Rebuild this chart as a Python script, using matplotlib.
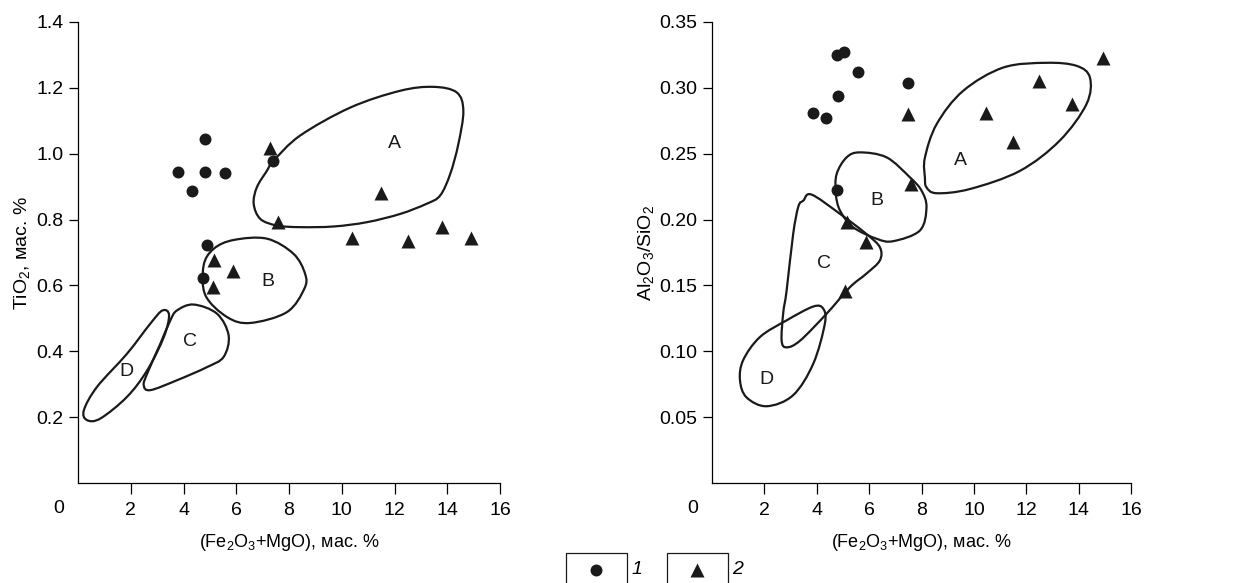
import numpy as np
import matplotlib.pyplot as plt
from matplotlib.path import Path
from matplotlib.patches import PathPatch, Rectangle
from matplotlib.lines import Line2D

plt.rcParams['font.family'] = ['Liberation Sans Narrow', 'Liberation Sans', 'DejaVu Sans']
plt.rcParams['mathtext.fontset'] = 'custom'
plt.rcParams['mathtext.rm'] = 'Liberation Sans Narrow'
plt.rcParams['mathtext.it'] = 'Liberation Sans Narrow:italic'

# ---- left panel: TiO2 vs (Fe2O3+MgO)
ti_circ_x = [4.83, 3.80, 4.83, 5.58, 4.33, 7.41, 4.90, 4.72]
ti_circ_y = [1.045, 0.945, 0.945, 0.942, 0.888, 0.978, 0.724, 0.622]
ti_tri_x = [7.26, 7.57, 11.5, 10.4, 12.5, 13.8, 14.9, 5.15, 5.87, 5.10]
ti_tri_y = [1.018, 0.794, 0.880, 0.743, 0.734, 0.777, 0.743, 0.676, 0.645, 0.595]

ti_fields = {
    'A': [(7.41, 0.978), (8.42, 1.055), (10.32, 1.140), (12.21, 1.191), (13.47, 1.203),
          (14.36, 1.186), (14.61, 1.130), (14.42, 1.029), (14.11, 0.938), (13.73, 0.873),
          (13.22, 0.848), (12.21, 0.817), (10.95, 0.792), (9.69, 0.779), (8.42, 0.777),
          (7.54, 0.782), (6.91, 0.802), (6.66, 0.848), (6.78, 0.898), (7.16, 0.948)],
    'B': [(4.76, 0.66), (5.14, 0.711), (5.90, 0.738), (7.16, 0.742), (8.17, 0.696),
          (8.61, 0.635), (8.58, 0.590), (7.92, 0.519), (6.53, 0.486), (5.65, 0.504),
          (4.83, 0.57)],
    'C': [(4.38, 0.542), (5.27, 0.514), (5.71, 0.448), (5.52, 0.383), (4.89, 0.352),
          (3.75, 0.312), (2.74, 0.282), (2.49, 0.297), (2.62, 0.332), (3.12, 0.423),
          (3.50, 0.494), (3.75, 0.524)],
    'D': [(3.20, 0.524), (3.45, 0.510), (3.25, 0.443), (2.62, 0.342), (1.86, 0.262),
          (0.85, 0.196), (0.34, 0.191), (0.22, 0.221), (0.72, 0.292), (1.86, 0.393),
          (2.74, 0.484)],
}
ti_labels = {'A': (12.0, 1.03), 'B': (7.2, 0.612), 'C': (4.23, 0.43), 'D': (1.83, 0.34)}

# ---- right panel: Al2O3/SiO2 vs (Fe2O3+MgO)
al_circ_x = [4.76, 5.04, 5.56, 7.48, 4.82, 3.84, 4.35, 4.76]
al_circ_y = [0.325, 0.327, 0.312, 0.304, 0.294, 0.281, 0.277, 0.2225]
al_tri_x = [14.94, 12.49, 13.75, 10.48, 11.5, 7.49, 7.60, 5.15, 5.90, 5.08]
al_tri_y = [0.3225, 0.305, 0.2877, 0.281, 0.259, 0.2805, 0.227, 0.198, 0.183, 0.146]

al_fields = {
    'A': [(8.19, 0.2245), (8.58, 0.220), (9.85, 0.2232), (11.76, 0.237), (13.28, 0.260),
          (14.30, 0.2877), (14.43, 0.3078), (13.92, 0.3167), (12.77, 0.319), (11.12, 0.3154),
          (9.59, 0.2977), (8.58, 0.2725), (8.13, 0.247), (8.13, 0.232)],
    'B': [(4.76, 0.2346), (5.14, 0.2472), (5.65, 0.251), (6.67, 0.2472), (7.56, 0.232),
          (8.0, 0.222), (8.19, 0.2093), (7.94, 0.1917), (6.92, 0.1836), (6.29, 0.1854),
          (5.39, 0.1942), (4.89, 0.2068), (4.73, 0.2195)],
    'C': [(3.80, 0.219), (4.89, 0.2043), (5.90, 0.189), (6.41, 0.179), (6.41, 0.169),
          (5.90, 0.159), (5.27, 0.1487), (4.38, 0.1286), (3.36, 0.108), (2.85, 0.103),
          (2.66, 0.108), (2.72, 0.129), (2.85, 0.146), (3.10, 0.189), (3.30, 0.210),
          (3.49, 0.2144)],
    'D': [(1.07, 0.078), (1.32, 0.065), (2.09, 0.0583), (3.10, 0.0667), (3.87, 0.0907),
          (4.31, 0.121), (4.25, 0.1323), (3.87, 0.134), (2.85, 0.1235), (1.83, 0.1108),
          (1.19, 0.0932)],
}
al_labels = {'A': (9.49, 0.2452), 'B': (6.31, 0.2144), 'C': (4.27, 0.1664), 'D': (2.09, 0.0788)}

x_ticks = [2, 4, 6, 8, 10, 12, 14, 16]
ti_ticks = [0.2, 0.4, 0.6, 0.8, 1.0, 1.2, 1.4]
al_ticks = [0.05, 0.10, 0.15, 0.20, 0.25, 0.30, 0.35]

xlabel = r'(Fe$_\mathregular{2}$O$_\mathregular{3}$+MgO), мас. %'


def closed_curve(pts):
    # smooth closed outline through the traced points (Catmull-Rom as cubic Bezier)
    p = np.array(pts, dtype=float)
    n = len(p)
    verts = [p[0]]
    codes = [Path.MOVETO]
    for i in range(n):
        p0, p1, p2, p3 = p[i - 1], p[i], p[(i + 1) % n], p[(i + 2) % n]
        verts += [p1 + (p2 - p0) / 6, p2 - (p3 - p1) / 6, p2]
        codes += [Path.CURVE4] * 3
    return Path(verts, codes)


def panel(ax, cx, cy, tx, ty, fields, labels, yticks, ylim, ylabel, yfmt):
    for pts in fields.values():
        ax.add_patch(PathPatch(closed_curve(pts), fill=False, lw=1.6, ec='#1a1a1a'))
    for k, (lx, ly) in labels.items():
        ax.text(lx, ly, k, fontsize=14, ha='center', va='center', color='#1a1a1a')
    ax.plot(cx, cy, 'o', color='#1a1a1a', ms=8.6, mec='none', zorder=3)
    ax.plot(tx, ty, '^', color='#1a1a1a', ms=10, mec='none', zorder=3)
    ax.set_xlim(0, 16)
    ax.set_ylim(0, ylim)
    ax.set_xticks(x_ticks)
    ax.set_yticks(yticks)
    ax.set_yticklabels([yfmt % v for v in yticks])
    for s in ['top', 'right']:
        ax.spines[s].set_visible(False)
    for s in ['left', 'bottom']:
        ax.spines[s].set_linewidth(0.9)
    ax.tick_params(axis='x', direction='out', length=8, width=0.9, pad=6, labelsize=14)
    ax.tick_params(axis='y', direction='out', length=6.5, width=0.9, pad=4, labelsize=14)
    ax.annotate('0', xy=(0, 0), xycoords='axes fraction', xytext=(-13.7, -18),
                textcoords='offset points', ha='center', va='center', fontsize=14)
    ax.set_xlabel(xlabel, fontsize=13, labelpad=9)
    ax.set_ylabel(ylabel, fontsize=14, labelpad=2)


fig = plt.figure(figsize=(12.41, 5.83), dpi=100)
ax1 = fig.add_axes([0.0629, 0.1715, 0.340, 0.7908])
ax2 = fig.add_axes([0.5737, 0.1715, 0.3377, 0.7908])

panel(ax1, ti_circ_x, ti_circ_y, ti_tri_x, ti_tri_y, ti_fields, ti_labels,
      ti_ticks, 1.4, r'TiO$_\mathregular{2}$, мас. %', '%.1f')
panel(ax2, al_circ_x, al_circ_y, al_tri_x, al_tri_y, al_fields, al_labels,
      al_ticks, 0.35, r'Al$_\mathregular{2}$O$_\mathregular{3}$/SiO$_\mathregular{2}$', '%.2f')

# legend boxes at the bottom
for x0, marker, lab in [(0.456, 'o', '1'), (0.5375, '^', '2')]:
    fig.add_artist(Rectangle((x0, -0.05), 0.049, 0.1015, transform=fig.transFigure,
                             fill=False, lw=0.9, ec='#1a1a1a'))
    fig.add_artist(Line2D([x0 + 0.0245], [0.0223], marker=marker, color='#1a1a1a',
                          ms=8.6 if marker == 'o' else 10, mec='none', transform=fig.transFigure))
    fig.text(x0 + 0.057, 0.0223, lab, fontsize=14, style='italic', ha='center', va='center')

fig.savefig('out.png', dpi=100)
